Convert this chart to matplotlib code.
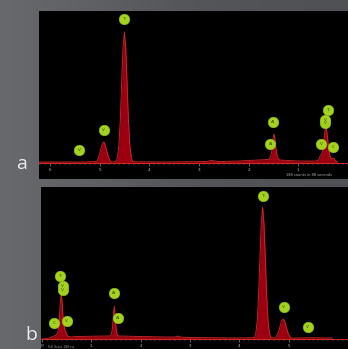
import matplotlib
matplotlib.use("Agg")
import matplotlib.pyplot as plt
import numpy as np

# ---------------- data ----------------
# Panel a spectrum (energy keV, counts) - displayed with reversed energy axis
a_energy = [0.21, 0.25, 0.29, 0.32, 0.36, 0.40, 0.43, 0.45, 0.47, 0.50, 0.53, 0.56, 0.59,
            0.65, 0.80, 1.00, 1.20, 1.38, 1.42, 1.45, 1.47, 1.49, 1.51, 1.53, 1.56, 1.60,
            1.80, 2.20, 2.60, 2.75, 2.85, 3.20, 3.80, 4.30, 4.335, 4.363, 4.39, 4.418,
            4.445, 4.4725, 4.50, 4.5275, 4.555, 4.583, 4.61, 4.638, 4.665, 4.75, 4.78,
            4.82, 4.85, 4.875, 4.90, 4.92, 4.945, 4.97, 5.00, 5.03, 5.06, 5.30, 6.22]
a_counts = [1, 2, 5, 4, 6, 20, 33, 36, 30, 16, 9, 7, 3,
            2, 2, 2, 2.5, 3, 6, 14, 24, 29, 24, 13, 6, 3.5,
            3, 2, 1.5, 2.5, 1.5, 1.2, 1, 1.2, 1.5, 6, 18, 42,
            80, 115, 131, 115, 80, 42, 18, 6, 1.5, 1, 1.5,
            6, 11, 16, 20, 21, 19, 15, 9, 4, 1.5, 1, 1]
a_lbl_text = ["V", "V", "Ti", "Al", "Al", "Ti", "V", "V", "V", "C"]
a_lbl_e = [5.41, 4.92, 4.51, 1.50, 1.56, 0.41, 0.46, 0.46, 0.54, 0.30]
a_lbl_y = [13, 33, 143.7, 40.7, 19, 53, 40, 43, 19, 16.3]
a_ticks = [1, 2, 3, 4, 5, 6]

# Panel b spectrum
b_energy = [0.00, 0.10, 0.18, 0.24, 0.28, 0.32, 0.35, 0.37, 0.39, 0.41, 0.43, 0.46, 0.49,
            0.52, 0.58, 0.70, 1.00, 1.30, 1.38, 1.41, 1.43, 1.45, 1.465, 1.48, 1.50, 1.52,
            1.55, 1.60, 2.00, 2.50, 2.70, 2.75, 2.80, 3.00, 3.50, 4.00, 4.25, 4.305,
            4.333, 4.36, 4.388, 4.415, 4.4425, 4.47, 4.4975, 4.525, 4.5525, 4.58, 4.608,
            4.635, 4.72, 4.75, 4.785, 4.81, 4.835, 4.86, 4.885, 4.91, 4.935, 4.96, 4.985,
            5.02, 5.05, 5.20, 5.45, 5.88]
b_counts = [0, 0.3, 1.5, 3, 3.5, 6, 18, 35, 46, 36, 20, 10, 6,
            3, 2, 2.5, 2.8, 3, 3, 5, 12, 26, 33, 26, 12, 5,
            3, 3, 2.5, 2, 2, 3, 2, 1.5, 1.2, 1, 1.2, 1.5,
            6, 18, 43, 80, 116, 132, 116, 80, 43, 18, 6,
            1.5, 1, 2.5, 6, 10, 15, 18.5, 20, 18.5, 15, 10, 6,
            2.5, 1, 1, 1.2, 1]
b_lbl_text = ["C", "V", "V", "Ti", "V", "Al", "Al", "Ti", "V", "V"]
b_lbl_e = [0.25, 0.42, 0.42, 0.365, 0.50, 1.46, 1.54, 4.48, 4.90, 5.385]
b_lbl_y = [16, 49, 53, 63, 18, 46, 21, 143, 32, 12]
b_ticks = [0, 1, 2, 3, 4, 5]

# ---------------- figure ----------------
W, H = 348, 349
fig = plt.figure(figsize=(W / 100, H / 100), dpi=100)
fig.patch.set_facecolor("#56575b")

# gray background with horizontal shading
bg = fig.add_axes([0, 0, 1, 1])
cols = np.array([[104, 105, 109], [96, 97, 101], [86, 87, 91], [82, 83, 87], [80, 81, 85]]) / 255.0
xs = np.linspace(0, 1, len(cols))
grid = np.linspace(0, 1, 200)
img = np.stack([np.interp(grid, xs, cols[:, c]) for c in range(3)], axis=-1)[None, :, :]
bg.imshow(img, aspect="auto", extent=[0, 1, 0, 1])
bg.set_axis_off()

PEAK_FILL = "#9c0010"
PEAK_EDGE = "#d42a2a"
LBL_FC = "#a3d21f"
LBL_TXT = "#2f4a00"
TICK_C = "#bdbdbd"


def draw_panel(ax, energy, counts, xlim, ylim, ticks, lbl_text, lbl_e, lbl_y):
    ax.set_facecolor("black")
    ax.fill_between(energy, 0, counts, color=PEAK_FILL, lw=0, zorder=2)
    ax.plot(energy, counts, color=PEAK_EDGE, lw=0.6, zorder=3)
    ax.axhline(0, color=PEAK_EDGE, lw=0.6, zorder=3)
    ax.set_xlim(*xlim)
    ax.set_ylim(*ylim)
    for s in ["top", "right", "left"]:
        ax.spines[s].set_visible(False)
    ax.spines["bottom"].set_position(("data", 0))
    ax.spines["bottom"].set_color(PEAK_EDGE)
    ax.spines["bottom"].set_linewidth(0.6)
    ax.set_yticks([])
    ax.set_xticks(ticks)
    ax.set_xticklabels([str(t) for t in ticks])
    ax.set_xticks(np.arange(0, 6.3, 0.1), minor=True)
    ax.tick_params(axis="x", which="major", direction="out", length=2.5, width=0.4,
                   color=TICK_C, labelcolor=TICK_C, labelsize=3, pad=0.8)
    ax.tick_params(axis="x", which="minor", direction="out", length=1.2, width=0.3,
                   color="#9a9a9a")
    for t, e, y in zip(lbl_text, lbl_e, lbl_y):
        ax.plot([e], [y], "o", ms=7.7, mfc=LBL_FC, mec="#8fbf10", mew=0.3, zorder=5)
        ax.text(e, y, t, ha="center", va="center", fontsize=3, color=LBL_TXT, zorder=6)


# Panel a (reversed energy axis)
ax_a = fig.add_axes([39 / W, 1 - 179 / H, 1 - 39 / W, (179 - 10.7) / H])
draw_panel(ax_a, a_energy, a_counts, (6.218, 0.206), (-16, 152.3), a_ticks,
           a_lbl_text, a_lbl_e, a_lbl_y)
ax_a.text(1.25, -12, "188 counts in 88 seconds", fontsize=2.6, color="#b0b0b0",
          ha="left", va="center", clip_on=True)

# Panel b
ax_b = fig.add_axes([41 / W, 0, 1 - 41 / W, (349 - 187) / H])
draw_panel(ax_b, b_energy, b_counts, (-0.019, 5.885), (-10, 152), b_ticks,
           b_lbl_text, b_lbl_e, b_lbl_y)
ax_b.text(0.12, -7.9, "Full Scale 188 cts", fontsize=2.2, color="#9a9a9a",
          ha="left", va="center")

# panel letters
fig.text(22 / W, 1 - 164 / H, "a", fontsize=14, color="#ececec", ha="center", va="center",
         family="Open Sans")
fig.text(31 / W, 1 - 335 / H, "b", fontsize=14, color="#ececec", ha="center", va="center",
         family="Open Sans")

fig.savefig("out.png", dpi=100, facecolor=fig.get_facecolor())
